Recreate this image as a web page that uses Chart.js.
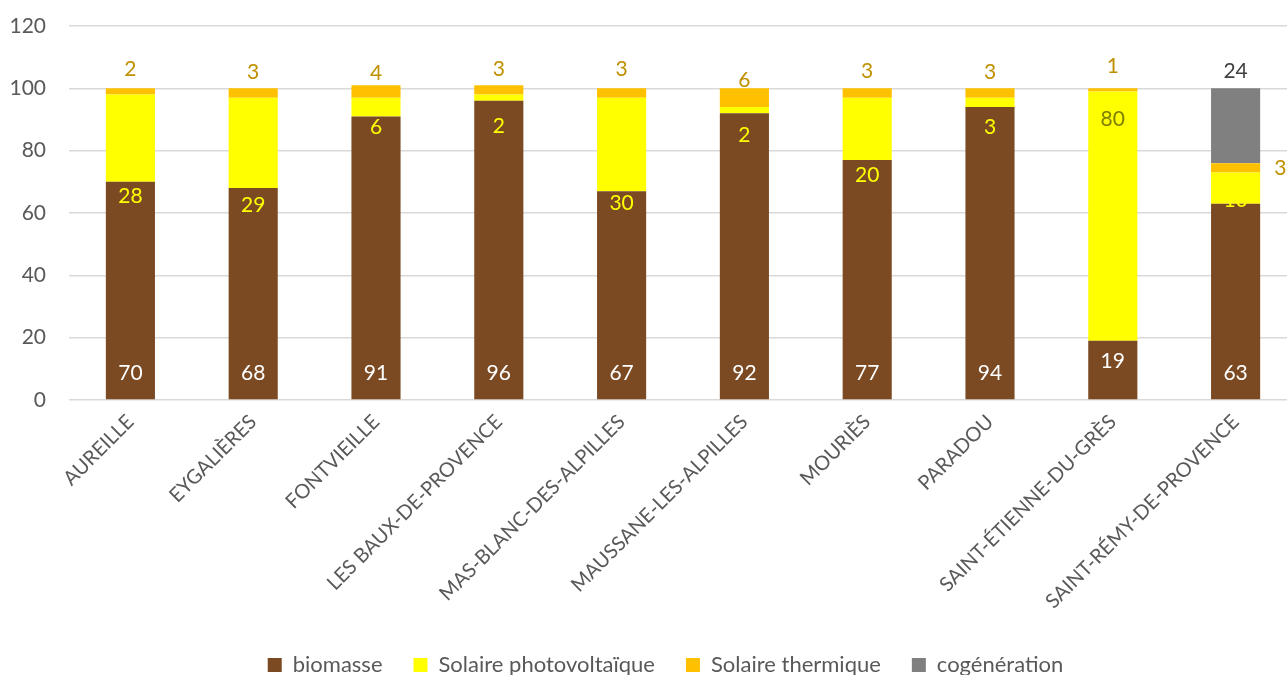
<!DOCTYPE html>
<html lang="fr">
<head>
<meta charset="utf-8">
<title>Production d'énergies renouvelables par commune</title>
<script src="https://cdn.jsdelivr.net/npm/chart.js@4.4.1/dist/chart.umd.min.js"></script>
<style>
  html, body { margin: 0; padding: 0; background: #ffffff; overflow: hidden; }
  #wrap { width: 1287px; height: 675px; overflow: hidden; }
  canvas { display: block; }
</style>
</head>
<body>
<div id="wrap"><canvas id="chart" width="1297" height="675"></canvas></div>
<script>
// Communes (axe des catégories)
const communes = [
  'AUREILLE', 'EYGALIÈRES', 'FONTVIEILLE', 'LES BAUX-DE-PROVENCE',
  'MAS-BLANC-DES-ALPILLES', 'MAUSSANE-LES-ALPILLES', 'MOURIÈS', 'PARADOU',
  'SAINT-ÉTIENNE-DU-GRÈS', 'SAINT-RÉMY-DE-PROVENCE'
];

// Part de chaque filière (%)
const biomasse     = [70, 68, 91, 96, 67, 92, 77, 94, 19, 63];
const photovolt    = [28, 29,  6,  2, 30,  2, 20,  3, 80, 10];
const thermique    = [ 2,  3,  4,  3,  3,  6,  3,  3,  1,  3];
const cogeneration = [ 0,  0,  0,  0,  0,  0,  0,  0,  0, 24];

// Graduations de l'axe vertical
const yTicks = [0, 20, 40, 60, 80, 100, 120];

const FONT = 'Lato, "Open Sans", "Liberation Sans", sans-serif';
const GREY_TEXT = '#595959';

// Étiquettes de valeur dessinées sur / autour des segments
const segmentLabels = {
  id: 'segmentLabels',
  afterDatasetsDraw(chart, args, opts) {
    const ctx = chart.ctx;
    ctx.save();
    ctx.font = `21px ${FONT}`;
    ctx.textBaseline = 'middle';
    chart.data.datasets.forEach((ds, di) => {
      const spec = opts.specs[di];
      const meta = chart.getDatasetMeta(di);
      if (!spec || meta.hidden) return;
      meta.data.forEach((bar, i) => {
        const v = ds.data[i];
        if (!v) return;
        const p = bar.getProps(['x', 'y', 'base', 'width'], true);
        const o = Object.assign({}, spec, (spec.overrides || {})[i] || {});
        const dy = Array.isArray(o.dy) ? o.dy[i] : (o.dy || 0);
        let x = p.x, y;
        ctx.textAlign = 'center';
        if (o.anchor === 'base') y = p.base + dy;
        else if (o.anchor === 'top') y = p.y + dy;
        else if (o.anchor === 'right') {
          x = p.x + p.width / 2 + (o.dx || 0);
          y = (p.y + p.base) / 2 + dy;
          ctx.textAlign = 'left';
        }
        ctx.fillStyle = o.color;
        ctx.fillText(String(v), x, y);
      });
    });
    ctx.restore();
  }
};

// Position de la légende sous le graphique
const legendPlacement = {
  id: 'legendPlacement',
  afterLayout(chart, args, opts) {
    const lg = chart.legend;
    if (!lg) return;
    const h = lg.bottom - lg.top;
    lg.left += opts.dx; lg.right += opts.dx;
    lg.top = opts.top; lg.bottom = opts.top + h;
  }
};

const chart = new Chart(document.getElementById('chart'), {
  type: 'bar',
  data: {
    labels: communes,
    datasets: [
      { label: 'biomasse', data: biomasse, backgroundColor: '#7B4A23' },
      { label: 'Solaire photovoltaïque', data: photovolt, backgroundColor: '#FFFF00' },
      { label: 'Solaire thermique', data: thermique, backgroundColor: '#FFC000' },
      { label: 'cogénération', data: cogeneration, backgroundColor: '#808080' }
    ]
  },
  options: {
    responsive: false,
    animation: false,
    devicePixelRatio: 1,
    layout: { padding: { top: 26, left: 0, right: 0, bottom: 0 } },
    datasets: { bar: { barPercentage: 0.4, categoryPercentage: 1.0, borderWidth: 0 } },
    scales: {
      x: {
        stacked: true,
        grid: { display: false },
        border: { display: false },
        ticks: {
          autoSkip: false, minRotation: 45, maxRotation: 45,
          color: GREY_TEXT, font: { family: FONT, size: 20 }, padding: 2
        },
        afterFit(scale) { scale.height = 212; }
      },
      y: {
        stacked: true,
        min: 0, max: 120,
        afterBuildTicks(scale) { scale.ticks = yTicks.map(v => ({ value: v })); },
        grid: { color: '#D9D9D9', lineWidth: 1.5, drawTicks: false },
        border: { display: false },
        ticks: { color: GREY_TEXT, font: { family: FONT, size: 21 }, padding: 23 },
        afterFit(scale) {
          scale.width = 69;
          scale.paddingTop = 0;
          scale.paddingBottom = 0;
        }
      }
    },
    plugins: {
      tooltip: { enabled: false },
      legend: {
        position: 'bottom',
        labels: {
          boxWidth: 14, boxHeight: 14, padding: 31,
          color: GREY_TEXT, font: { family: FONT, size: 22 }
        }
      },
      legendPlacement: { dx: 17, top: 623 },
      segmentLabels: {
        specs: [
          { anchor: 'base', dy: -26, color: '#FFFFFF',
            overrides: { 8: { anchor: 'top', dy: 20 } } },
          { anchor: 'base', dy: [14, 17, 11, 25, 12, 22, 15, 20, 0, -3], color: '#FFFF00',
            overrides: { 8: { anchor: 'top', dy: 28, color: '#7F7F00' } } },
          { anchor: 'top', dy: [-19, -16, -12, -16, -19, -8, -17, -16, -22, 0], color: '#BF9000',
            overrides: { 9: { anchor: 'right', dx: 14, dy: 0 } } },
          { anchor: 'top', dy: -17, color: '#404040' }
        ]
      }
    }
  },
  plugins: [segmentLabels, legendPlacement]
});
</script>
</body>
</html>
